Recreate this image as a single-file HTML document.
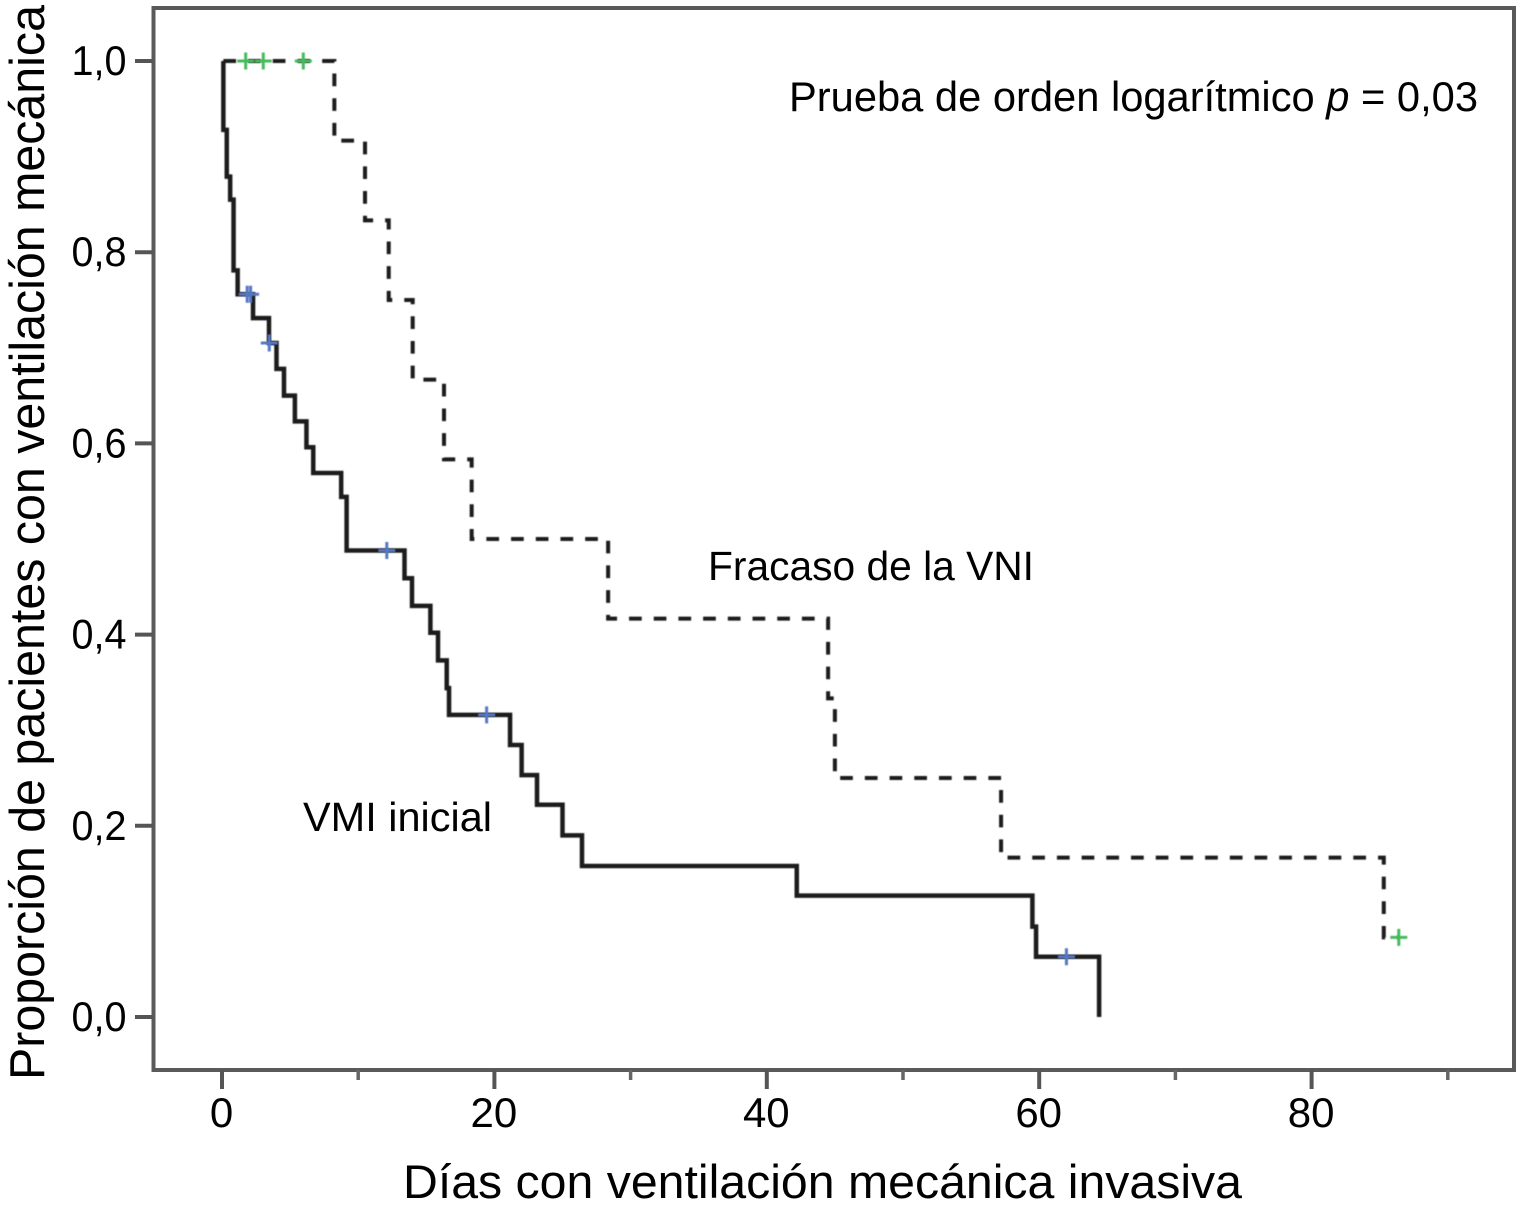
<!DOCTYPE html>
<html lang="es">
<head>
<meta charset="utf-8">
<title>Curva de Kaplan-Meier</title>
<style>
html,body{margin:0;padding:0;background:#fff;width:1525px;height:1210px;overflow:hidden}
svg{display:block}
text{font-family:"Liberation Sans",sans-serif;fill:#000}
</style>
</head>
<body>
<svg id="chart" width="1525" height="1210" viewBox="0 0 1525 1210" xmlns="http://www.w3.org/2000/svg">
  <defs>
    <filter id="soft" x="-5%" y="-5%" width="110%" height="110%"><feGaussianBlur stdDeviation="0.6"/></filter>
  </defs>
  <rect x="0" y="0" width="1525" height="1210" fill="#ffffff"/>
  <g id="axes"></g>
  <g id="series" filter="url(#soft)"></g>
  <g id="censors" filter="url(#soft)"></g>
  <text x="789" y="111" font-size="42" textLength="689" lengthAdjust="spacingAndGlyphs">Prueba de orden logarítmico <tspan font-style="italic">p</tspan> = 0,03</text>
  <text x="708" y="580" font-size="41" textLength="326" lengthAdjust="spacingAndGlyphs">Fracaso de la VNI</text>
  <text x="303" y="831" font-size="41" textLength="189" lengthAdjust="spacingAndGlyphs">VMI inicial</text>
  <text x="403" y="1198" font-size="47" textLength="839" lengthAdjust="spacingAndGlyphs">Días con ventilación mecánica invasiva</text>
  <text transform="translate(44,1080) rotate(-90)" x="0" y="0" font-size="49" textLength="1075" lengthAdjust="spacingAndGlyphs">Proporción de pacientes con ventilación mecánica</text>
</svg>
<script>
const xMajorTicks = [0, 20, 40, 60, 80];
const xMinorTicks = [10, 30, 50, 70, 90];
const yTicks = [0, 0.2, 0.4, 0.6, 0.8, 1.0];
const yTickLabels = ['0,0', '0,2', '0,4', '0,6', '0,8', '1,0'];

const vmiTimes = [0.1, 0.35, 0.6, 0.85, 1.15, 2.28, 3.45, 4.0, 4.55, 5.35, 6.2, 6.7, 8.75, 9.15, 13.4, 13.95, 15.3, 15.86, 16.5, 16.67, 21.15, 22.0, 23.13, 25.0, 26.43, 42.2, 59.5, 59.77, 64.4];
const vmiSurvival = [0.928, 0.879, 0.855, 0.781, 0.756, 0.731, 0.705, 0.678, 0.65, 0.623, 0.596, 0.569, 0.544, 0.488, 0.459, 0.43, 0.402, 0.373, 0.344, 0.316, 0.2845, 0.253, 0.222, 0.19, 0.158, 0.127, 0.0945, 0.063, 0];
const vniTimes = [8.25, 10.5, 12.24, 14.0, 16.3, 18.33, 28.35, 44.5, 45.0, 57.2, 85.3];
const vniSurvival = [0.9167, 0.8333, 0.75, 0.6667, 0.5833, 0.5, 0.4167, 0.3333, 0.25, 0.1667, 0.0833];
const vniEndTime = 86.4;

const vmiCensorTimes = [1.85, 2.1, 3.47, 12.1, 19.43, 62.0];
const vmiCensorSurvival = [0.756, 0.756, 0.705, 0.488, 0.316, 0.063];
const vniCensorTimes = [1.74, 3.03, 5.97, 86.4];
const vniCensorSurvival = [1, 1, 1, 0.0833];

const NS = 'http://www.w3.org/2000/svg';
const xScale = function (t) { return 222 + t * 13.62; };
const yScale = function (s) { return 1017 - s * 956; };

function make(tag, parent) {
  const el = document.createElementNS(NS, tag);
  parent.appendChild(el);
  return el;
}
function stepPath(times, values, endTime) {
  let d = 'M' + xScale(times[0]) + ' ' + yScale(1);
  let prev = 1;
  if (times[0] > 0.2) { d = 'M' + xScale(0.1) + ' ' + yScale(1); }
  times.forEach(function (t, i) {
    d += 'L' + xScale(t) + ' ' + yScale(prev) + 'L' + xScale(t) + ' ' + yScale(values[i]);
    prev = values[i];
  });
  if (endTime !== undefined) { d += 'L' + xScale(endTime) + ' ' + yScale(prev); }
  return d;
}

const axes = document.getElementById('axes');

const frame = make('rect', axes);


frame.setAttribute('x', 153.5);
frame.setAttribute('y', 8);
frame.setAttribute('width', 1360.5);
frame.setAttribute('height', 1062);
frame.setAttribute('fill', 'none');
frame.setAttribute('stroke', '#5a5a5a');
frame.setAttribute('stroke-width', 4);

xMajorTicks.forEach(function (v) {
  const tick = make('line', axes);
  
  
  tick.setAttribute('x1', xScale(v));
  tick.setAttribute('x2', xScale(v));
  tick.setAttribute('y1', 1070);
  tick.setAttribute('y2', 1089);
  tick.setAttribute('stroke', '#555');
  tick.setAttribute('stroke-width', 4);
  const label = make('text', axes);
  
  
  label.setAttribute('x', xScale(v) - 0.5);
  label.setAttribute('y', 1127);
  label.setAttribute('font-size', 42);
  label.setAttribute('text-anchor', 'middle');
  label.textContent = String(v);
});

xMinorTicks.forEach(function (v) {
  const tick = make('line', axes);
  
  
  tick.setAttribute('x1', xScale(v));
  tick.setAttribute('x2', xScale(v));
  tick.setAttribute('y1', 1070);
  tick.setAttribute('y2', 1080);
  tick.setAttribute('stroke', '#666');
  tick.setAttribute('stroke-width', 3.5);
});

yTicks.forEach(function (v, i) {
  const tick = make('line', axes);
  
  
  tick.setAttribute('x1', 135);
  tick.setAttribute('x2', 153);
  tick.setAttribute('y1', yScale(v));
  tick.setAttribute('y2', yScale(v));
  tick.setAttribute('stroke', '#555');
  tick.setAttribute('stroke-width', 4);
  const label = make('text', axes);
  
  
  label.setAttribute('x', 71.5);
  label.setAttribute('y', yScale(v) + 14);
  label.setAttribute('font-size', 42);
  label.setAttribute('textLength', 55);
  label.setAttribute('lengthAdjust', 'spacingAndGlyphs');
  label.textContent = yTickLabels[i];
});

const series = document.getElementById('series');

const vmiLine = make('path', series);


vmiLine.setAttribute('d', stepPath(vmiTimes, vmiSurvival));
vmiLine.setAttribute('fill', 'none');
vmiLine.setAttribute('stroke', '#1e1e1e');
vmiLine.setAttribute('stroke-width', 4.5);

const vniLine = make('path', series);


vniLine.setAttribute('d', stepPath(vniTimes, vniSurvival, vniEndTime));
vniLine.setAttribute('fill', 'none');
vniLine.setAttribute('stroke', '#1e1e1e');
vniLine.setAttribute('stroke-width', 4);
vniLine.setAttribute('stroke-dasharray', '12.7 12');

const censors = document.getElementById('censors');
function drawCensor(t, s, color, name) {
  const g = make('path', censors);
  
  
  const x = xScale(t), y = yScale(s);
  g.setAttribute('d', 'M' + (x - 8.5) + ' ' + y + 'H' + (x + 8.5) + 'M' + x + ' ' + (y - 8.5) + 'V' + (y + 8.5));
  g.setAttribute('fill', 'none');
  g.setAttribute('stroke', color);
  g.setAttribute('stroke-width', 3);
}
vmiCensorTimes.forEach(function (t, i) { drawCensor(t, vmiCensorSurvival[i], '#5577c4', 'vmi-censor-mark'); });
vniCensorTimes.forEach(function (t, i) { drawCensor(t, vniCensorSurvival[i], '#45bb5c', 'vni-censor-mark'); });
</script>
</body>
</html>
